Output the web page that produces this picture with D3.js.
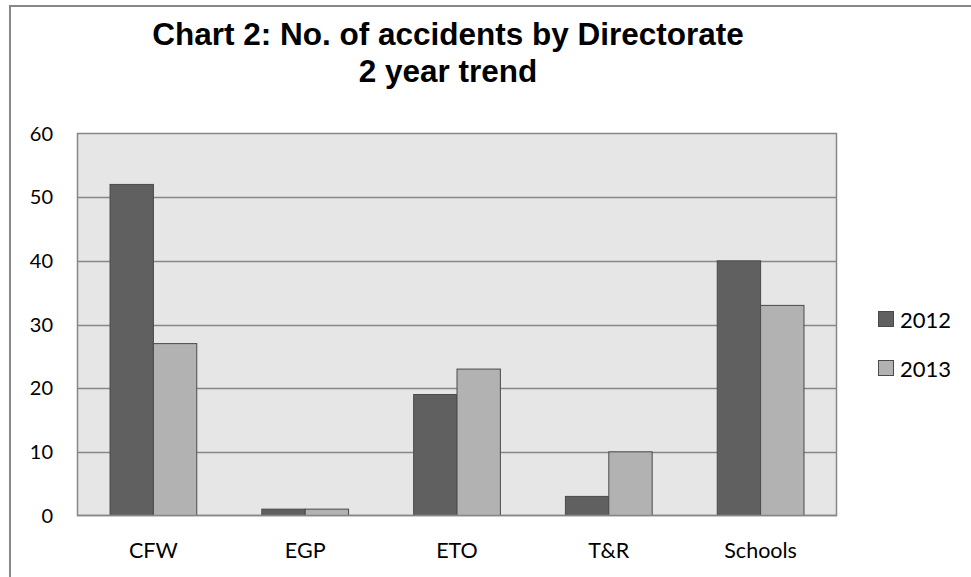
<!DOCTYPE html>
<html><head><meta charset="utf-8">
<script src="https://cdn.jsdelivr.net/npm/d3@7"></script>
<style>body{margin:0;background:#fff}svg{display:block}</style>
</head><body>
<svg id="c" width="971" height="577"></svg>
<script>
const categories = ["CFW", "EGP", "ETO", "T&R", "Schools"];
const seriesNames = ["2012", "2013"];
const values2012 = [52, 1, 19, 3, 40];
const values2013 = [27, 1, 23, 10, 33];
const yTicks = [0, 10, 20, 30, 40, 50, 60];
const titleLines = ["Chart 2: No. of accidents by Directorate", "2 year trend"];
const colors = ["#606060", "#b2b2b2"];

const svg = d3.select("#c");
const font = "Lato, 'Open Sans', sans-serif";

// outer chart border (clipped by viewport on right/bottom)
svg.append("rect").attr("x", 10).attr("y", 6).attr("width", 1000).attr("height", 620)
  .attr("fill", "#fff").attr("stroke", "#888").attr("stroke-width", 2);

const plot = {left: 77.5, top: 133.5, right: 836.5, bottom: 515.5};
const x0 = d3.scaleBand().domain(categories).range([plot.left, plot.right]).paddingInner(0).paddingOuter(0);
const x1 = d3.scaleBand().domain(seriesNames).range([0, x0.bandwidth()]).paddingInner(0).paddingOuter(0.75);
const y = d3.scaleLinear().domain([0, 60]).range([plot.bottom, plot.top]);

svg.append("rect").attr("x", plot.left).attr("y", plot.top)
  .attr("width", plot.right - plot.left).attr("height", plot.bottom - plot.top)
  .attr("fill", "#e6e6e6").attr("stroke", "#878787").attr("stroke-width", 1.5);

svg.append("g").selectAll("line").data(yTicks.filter(t => t > 0 && t < 60)).join("line")
  .attr("x1", plot.left).attr("x2", plot.right)
  .attr("y1", d => Math.round(y(d)) + 0.5).attr("y2", d => Math.round(y(d)) + 0.5)
  .attr("stroke", "#878787").attr("stroke-width", 1.5);

const data = categories.map((c, i) => ({c, vals: [values2012[i], values2013[i]]}));
const groups = svg.append("g").selectAll("g").data(data).join("g")
  .attr("transform", d => `translate(${x0(d.c)},0)`);
groups.selectAll("rect").data(d => d.vals.map((v, j) => ({v, s: seriesNames[j], j}))).join("rect")
  .attr("x", d => x1(d.s)).attr("width", x1.bandwidth())
  .attr("y", d => y(d.v)).attr("height", d => y(0) - y(d.v))
  .attr("fill", d => colors[d.j]).attr("stroke", "#4a4a4a").attr("stroke-width", 1);

// baseline
svg.append("line").attr("x1", plot.left).attr("x2", plot.right)
  .attr("y1", plot.bottom).attr("y2", plot.bottom).attr("stroke", "#878787").attr("stroke-width", 1.5);

// y axis labels
svg.append("g").selectAll("text").data(yTicks).join("text")
  .attr("x", 53).attr("y", d => y(d) + 7)
  .attr("text-anchor", "end").attr("font-family", font).attr("font-size", 20).attr("fill", "#000")
  .text(d => d);

// x labels
svg.append("g").selectAll("text").data(categories).join("text")
  .attr("x", d => x0(d) + x0.bandwidth() / 2).attr("y", 558)
  .attr("text-anchor", "middle").attr("font-family", font).attr("font-size", 21.5).attr("fill", "#000")
  .text(d => d);

// title
svg.append("g").selectAll("text").data(titleLines).join("text")
  .attr("x", 448).attr("y", (d, i) => 45 + i * 37)
  .attr("text-anchor", "middle").attr("font-family", "'Liberation Sans', Arial, sans-serif")
  .attr("font-weight", "bold").attr("font-size", 31.5).attr("fill", "#000")
  .text(d => d);

// legend
const leg = svg.append("g").selectAll("g").data(seriesNames).join("g")
  .attr("transform", (d, i) => `translate(878,${311 + i * 49})`);
leg.append("rect").attr("x", 0.5).attr("y", 0.5).attr("width", 15).attr("height", 15)
  .attr("fill", (d, i) => colors[i]).attr("stroke", "#4a4a4a").attr("stroke-width", 1);
leg.append("text").attr("x", 22).attr("y", 16.5).attr("font-family", font).attr("font-size", 22)
  .attr("fill", "#000").text(d => d);
</script>
</body></html>
